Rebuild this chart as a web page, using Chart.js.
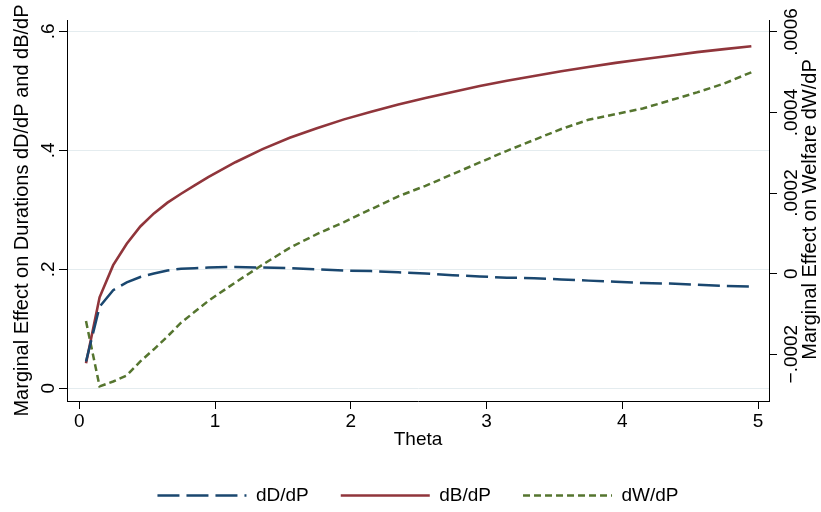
<!DOCTYPE html>
<html>
<head>
<meta charset="utf-8">
<script src="https://cdn.jsdelivr.net/npm/chart.js@4.4.1/dist/chart.umd.min.js"></script>
<style>
  html, body { margin: 0; padding: 0; background: #fff; }
  #wrap { width: 821px; height: 512px; position: relative; }
</style>
</head>
<body>
<div id="wrap"><canvas id="chart"></canvas></div>
<script>
// values
const theta = [0.05, 0.15, 0.25, 0.35, 0.45, 0.55, 0.65, 0.75, 0.85, 0.95,
  1.15, 1.35, 1.55, 1.75, 1.95, 2.15, 2.35, 2.55, 2.75, 2.95,
  3.15, 3.35, 3.55, 3.75, 3.95, 4.15, 4.35, 4.55, 4.75, 4.95];

const dD = [0.045, 0.137, 0.165, 0.178, 0.187, 0.193, 0.198, 0.201, 0.202, 0.203,
  0.204, 0.203, 0.202, 0.200, 0.198, 0.197, 0.195, 0.193, 0.190, 0.188,
  0.186, 0.185, 0.183, 0.181, 0.179, 0.177, 0.176, 0.174, 0.172, 0.171];

const dB = [0.042, 0.153, 0.207, 0.243, 0.272, 0.294, 0.312, 0.327, 0.341, 0.355,
  0.380, 0.402, 0.421, 0.437, 0.452, 0.465, 0.477, 0.488, 0.498, 0.508,
  0.517, 0.525, 0.533, 0.540, 0.547, 0.553, 0.559, 0.565, 0.570, 0.575];

// welfare effect, right axis
const dW = [-0.000118, -0.000280, -0.000268, -0.000253, -0.000218, -0.000188, -0.000156, -0.000122, -0.000095, -0.000068,
  -0.000022, 0.000022, 0.000064, 0.000098, 0.000128, 0.000160, 0.000192, 0.000218, 0.000247, 0.000276,
  0.000305, 0.000332, 0.000359, 0.000382, 0.000396, 0.000410, 0.000430, 0.000450, 0.000472, 0.000500];

const xTicks = [0, 1, 2, 3, 4, 5];
const leftTicks = [0, 0.2, 0.4, 0.6];
const leftTickLabels = ['0', '.2', '.4', '.6'];
const rightTicks = [-0.0002, 0, 0.0002, 0.0004, 0.0006];
const rightTickLabels = ['\u2212.0002', '0', '.0002', '.0004', '.0006'];

const seriesNames = ['dD/dP', 'dB/dP', 'dW/dP'];
const xTitle = 'Theta';
const leftTitle = 'Marginal Effect on Durations dD/dP and dB/dP';
const rightTitle = 'Marginal Effect on Welfare dW/dP';

const FONT = "'Liberation Sans', Arial, sans-serif";
const NAVY = '#1a476f';
const MAROON = '#90353b';
const GREEN = '#55752f';
const GRID = '#e4ecef';

function pts(ys) {
  return theta.map((t, i) => ({ x: t, y: ys[i] }));
}

function fixTicks(values) {
  return scale => { scale.ticks = values.map(v => ({ value: v })); };
}

// legend samples should use the dataset's own dash and width
function legendLabels(chart) {
  const items = Chart.defaults.plugins.legend.labels.generateLabels(chart);
  items.forEach(it => {
    const ds = chart.data.datasets[it.datasetIndex];
    it.lineDash = ds.borderDash || [];
    it.lineWidth = ds.borderWidth;
    it.strokeStyle = ds.borderColor;
    it.lineCap = 'butt';
  });
  return items;
}

// right axis title reads bottom-to-top in the original, so draw it here
const rightTitlePlugin = {
  id: 'rightTitle',
  afterDraw(chart) {
    const { ctx, chartArea } = chart;
    ctx.save();
    ctx.translate(810, (chartArea.top + chartArea.bottom) / 2 - 1);
    ctx.rotate(-Math.PI / 2);
    ctx.font = '20px ' + FONT;
    ctx.fillStyle = '#000';
    ctx.textAlign = 'center';
    ctx.textBaseline = 'middle';
    ctx.fillText(rightTitle, 0, 0);
    ctx.restore();
  }
};

const lineBase = { pointRadius: 0, pointHoverRadius: 0, tension: 0, fill: false, pointStyle: 'line' };

new Chart(document.getElementById('chart'), {
  type: 'line',
  data: {
    datasets: [
      { ...lineBase, label: seriesNames[0], data: pts(dD), yAxisID: 'y',
        borderColor: NAVY, backgroundColor: NAVY, borderWidth: 2.5, borderDash: [22, 7] },
      { ...lineBase, label: seriesNames[1], data: pts(dB), yAxisID: 'y',
        borderColor: MAROON, backgroundColor: MAROON, borderWidth: 2.6 },
      { ...lineBase, label: seriesNames[2], data: pts(dW), yAxisID: 'y2',
        borderColor: GREEN, backgroundColor: GREEN, borderWidth: 2.5, borderDash: [7, 4] }
    ]
  },
  options: {
    responsive: true,
    maintainAspectRatio: false,
    animation: false,
    devicePixelRatio: 1,
    layout: { padding: { top: 20, left: 0, right: 0, bottom: -3 } },
    plugins: {
      tooltip: { enabled: false },
      legend: {
        position: 'bottom',
        fullSize: false,
        labels: {
          usePointStyle: true,
          pointStyle: 'line',
          pointStyleWidth: 89,
          padding: 32,
          color: '#000',
          font: { family: FONT, size: 19 },
          generateLabels: legendLabels
        }
      }
    },
    scales: {
      x: {
        type: 'linear',
        min: -0.09,
        max: 5.08,
        afterBuildTicks: fixTicks(xTicks),
        afterFit: s => { s.height = 53; },
        grid: { drawOnChartArea: false, drawTicks: true, tickLength: 8, tickColor: '#000' },
        border: { display: true, color: '#000', width: 1 },
        ticks: { color: '#000', padding: 1, maxRotation: 0, font: { family: FONT, size: 19 },
          callback: v => String(v) },
        title: { display: true, text: xTitle, color: '#000', padding: { top: 0, bottom: 3 },
          font: { family: FONT, size: 19 } }
      },
      y: {
        type: 'linear',
        position: 'left',
        min: -0.0213,
        max: 0.619,
        afterBuildTicks: fixTicks(leftTicks),
        afterFit: s => { s.width = 67; },
        grid: { drawOnChartArea: true, color: GRID, lineWidth: 1, drawTicks: true, tickLength: 8, tickColor: '#000' },
        border: { display: true, color: '#000', width: 1 },
        ticks: { color: '#000', minRotation: 90, maxRotation: 90, crossAlign: 'center', padding: 2.5,
          font: { family: FONT, size: 19 },
          callback: (v, i) => leftTickLabels[i] },
        title: { display: true, text: leftTitle, color: '#000', padding: { top: 10, bottom: 0 },
          font: { family: FONT, size: 20 } }
      },
      y2: {
        type: 'linear',
        position: 'right',
        min: -0.0003164,
        max: 0.0006298,
        afterBuildTicks: fixTicks(rightTicks),
        afterFit: s => { s.width = 52; },
        grid: { drawOnChartArea: false, drawTicks: true, tickLength: 8, tickColor: '#000' },
        border: { display: true, color: '#000', width: 1 },
        ticks: { color: '#000', minRotation: 90, maxRotation: 90, crossAlign: 'center', padding: -15,
          font: { family: FONT, size: 19 },
          callback: (v, i) => rightTickLabels[i] },
        title: { display: false }
      }
    }
  },
  plugins: [rightTitlePlugin]
});
</script>
</body>
</html>
